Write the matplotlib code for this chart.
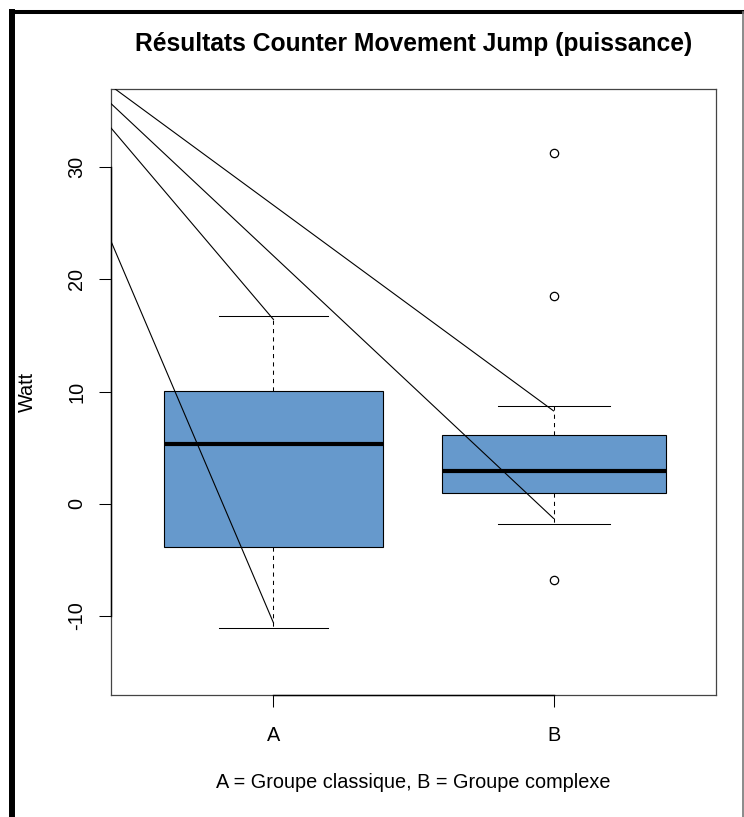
import matplotlib
matplotlib.use("Agg")
import matplotlib.pyplot as plt
from matplotlib.lines import Line2D

plt.rcParams['font.family'] = ['Liberation Sans', 'DejaVu Sans']

# Group labels and box statistics (Watt)
groups = ["A", "B"]
q1 = [-3.83, 0.98]
medians = [5.32, 2.94]
q3 = [10.04, 6.12]
whisk_lo = [-11.07, -1.81]
whisk_hi = [16.71, 8.73]
outliers = [[], [31.29, 18.52, -6.79]]
box_widths = [0.78, 0.80]

# Straight segments overlaid on the boxes: start (x, y) -> end (x, y)
seg_x0 = [0.42, 0.42, 0.42, 0.42]
seg_y0 = [33.48, 35.65, 37.22, 23.39]
seg_x1 = [1.0, 2.0, 2.0, 1.0]
seg_y1 = [16.42, -1.30, 8.28, -10.60]

y_ticks = [-10, 0, 10, 20, 30]

W, H = 744, 817
FS = 14.3
fig = plt.figure(figsize=(W / 100, H / 100), dpi=100)
fig.patch.set_facecolor("white")
ax = fig.add_axes([111 / W, 1 - 695 / H, (716 - 111) / W, (695 - 89) / H])

stats = []
for i, g in enumerate(groups):
    stats.append(dict(label=g, q1=q1[i], med=medians[i], q3=q3[i],
                      whislo=whisk_lo[i], whishi=whisk_hi[i], fliers=outliers[i]))

ax.bxp(stats, positions=[1, 2], widths=box_widths,
       capwidths=[w / 2 for w in box_widths],
       patch_artist=True, showfliers=True,
       boxprops=dict(facecolor="#6699CC", edgecolor="black", linewidth=0.8),
       medianprops=dict(color="black", linewidth=3.0, solid_capstyle="butt"),
       whiskerprops=dict(color="black", linewidth=0.75, linestyle=(0, (4, 4))),
       capprops=dict(color="black", linewidth=0.75),
       flierprops=dict(marker="o", markerfacecolor="none", markeredgecolor="black",
                       markersize=6, markeredgewidth=0.9))

for x0, y0, x1, y1 in zip(seg_x0, seg_y0, seg_x1, seg_y1):
    ax.plot([x0, x1], [y0, y1], color="black", linewidth=0.8, zorder=5)

ax.set_xlim(0.42, 2.58)
ax.set_ylim(-17.03, 36.95)

ax.set_xticks([1, 2])
ax.set_xticklabels(groups, fontsize=FS)
ax.set_yticks(y_ticks)
ax.set_yticklabels([str(v) for v in y_ticks], fontsize=FS, rotation=90, va="center")
ax.tick_params(axis="both", direction="out", length=8.9, width=0.75, color="black")
ax.tick_params(axis="x", pad=13.5)
ax.tick_params(axis="y", pad=9)

for sp in ax.spines.values():
    sp.set_color("#444444")
    sp.set_linewidth(0.9)

# Axis lines spanning the tick range
ax.plot([0, 0], [y_ticks[0], y_ticks[-1]], transform=ax.get_yaxis_transform(),
        color="black", linewidth=1.0, clip_on=False, zorder=6)
ax.plot([1, 2], [0, 0], transform=ax.get_xaxis_transform(),
        color="black", linewidth=1.0, clip_on=False, zorder=6)

fig.text(413.5 / W, 1 - 43.5 / H, "Résultats Counter Movement Jump (puissance)",
         ha="center", va="center", fontsize=17.7, fontweight="bold")
fig.text(27.5 / W, 1 - 392 / H, "Watt", rotation=90, ha="center", va="center",
         fontsize=FS)
fig.text(413.5 / W, 1 - 782 / H, "A = Groupe classique, B = Groupe complexe",
         ha="center", va="center", fontsize=FS)

# Frame around the figure
fig.add_artist(Line2D([12 / W, 12 / W], [0, 1 - 11.5 / H], transform=fig.transFigure,
                      color="black", linewidth=4.3, solid_capstyle="projecting"))
fig.add_artist(Line2D([12 / W, 742 / W], [1 - 11.5 / H, 1 - 11.5 / H],
                      transform=fig.transFigure, color="black", linewidth=2.9,
                      solid_capstyle="projecting"))
fig.add_artist(Line2D([742.5 / W, 742.5 / W], [0, 1 - 11.5 / H], transform=fig.transFigure,
                      color="#777777", linewidth=1.2))

fig.savefig("out.png", dpi=100, facecolor="white")
